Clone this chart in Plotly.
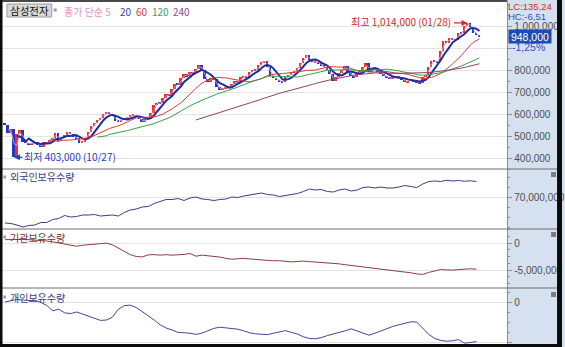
import plotly.graph_objects as go
import pandas as pd

W, H = 565, 347

# ---- price data: closes in thousand won, ~3.7 trading days per bar ----
close_k = [548, 515, 530, 403, 508, 527, 474, 470, 462, 470,
           472, 460, 452, 472, 468, 482, 492, 512, 476, 492,
           505, 518, 507, 498, 490, 470, 474, 492, 520, 545,
           560, 572, 584, 598, 610, 600, 590, 568, 566, 574,
           580, 587, 592, 596, 588, 578, 565, 576, 584, 605,
           640, 652, 648, 672, 690, 684, 712, 738, 732, 765,
           780, 772, 792, 786, 805, 822, 800, 760, 745, 765,
           758, 725, 708, 718, 725, 722, 735, 748, 742, 766,
           772, 768, 790, 802, 798, 822, 835, 842, 815, 775,
           765, 755, 748, 745, 766, 778, 788, 795, 810, 832,
           855, 866, 845, 835, 838, 830, 822, 812, 798, 780,
           748, 768, 785, 800, 820, 786, 775, 768, 788, 795,
           812, 830, 792, 800, 808, 792, 784, 772, 768, 758,
           770, 766, 768, 756, 745, 752, 756, 748, 745, 740,
           766, 778, 815, 842, 840, 836, 888, 930, 925, 945,
           940, 938, 970, 968, 1000, 1014, 995, 970, 960, 948]
first_open_k = 560
low_date = "10/27"
high_date = "01/28"

# ---- holdings (million shares), one sample every 2 bars ----
foreign_m = [64.8, 64.7, 64.4, 64.0, 64.3, 64.4, 64.9, 64.9, 65.5, 65.7,
             66.3, 66.0, 66.1, 66.4, 66.4, 66.5, 66.2, 66.3, 66.4, 66.2,
             66.9, 67.4, 67.6, 68.0, 68.1, 68.7, 69.1, 69.5, 69.5, 69.7,
             69.3, 69.8, 70.0, 69.6, 69.5, 69.3, 69.5, 69.6, 70.0, 69.9,
             70.2, 70.4, 70.5, 70.8, 70.5, 70.4, 70.1, 70.3, 70.6, 70.7,
             71.1, 71.6, 71.4, 71.5, 71.1, 71.0, 71.4, 71.6, 71.2, 71.4,
             71.9, 72.0, 71.8, 72.0, 71.8, 71.8, 72.0, 72.3, 72.1, 71.9,
             72.6, 73.1, 73.2, 73.1, 73.35, 73.2, 73.3, 73.15, 73.25, 73.1]
inst_m = [0.62, 0.66, 0.72, 0.66, 0.62, 0.55, 0.52, 0.36, 0.22, 0.05,
          -0.12, -0.30, -0.60, -0.42, -0.30, -0.22, -0.12, -0.02, -0.35, -0.95,
          -1.60, -2.15, -2.50, -2.58, -2.20, -2.15, -2.24, -2.16, -2.25, -2.20,
          -2.12, -1.95, -2.45, -2.25, -2.32, -2.40, -2.60, -2.85, -3.00, -2.92,
          -2.85, -2.95, -3.05, -3.15, -3.20, -3.30, -3.28, -3.40, -3.50, -3.42,
          -3.35, -3.45, -3.52, -3.60, -3.66, -3.78, -3.86, -4.02, -4.15, -4.30,
          -4.36, -4.48, -4.62, -4.78, -4.90, -5.08, -5.22, -5.38, -5.52, -5.72,
          -5.82, -5.45, -5.12, -4.92, -4.98, -5.02, -4.92, -4.85, -4.78, -4.85]
indiv_m = [0.00, 0.15, 0.32, 0.25, 0.18, 0.22, -0.05, -0.42, -1.10, -0.90,
           -1.35, -1.45, -1.25, -1.50, -1.80, -2.10, -2.30, -2.25, -1.90, -0.90,
           -0.45, -0.40, -0.70, -1.20, -1.70, -2.25, -2.85, -3.25, -3.50, -3.80,
           -3.85, -3.90, -4.05, -3.90, -3.60, -3.30, -3.15, -3.25, -3.30, -3.40,
           -3.60, -3.85, -3.98, -4.05, -4.08, -3.90, -3.72, -3.58, -3.80, -4.00,
           -4.35, -4.55, -4.60, -4.45, -4.20, -4.00, -3.85, -3.60, -3.35, -3.60,
           -3.90, -4.15, -3.90, -3.60, -3.25, -3.05, -2.85, -2.65, -2.48, -2.50,
           -3.30, -4.05, -4.55, -4.80, -4.90, -4.85, -4.70, -5.15, -5.05, -4.95]

# moving averages (trading days) and their colours
ma_days = [5, 20, 60, 120, 240]
ma_colors = ["#ec8fb2", "#1d2f9e", "#d63a3a", "#35a046", "#8e3f72"]
ma_widths = [1, 2, 1, 1, 1]
DAYS_PER_BAR = 3.7

price_ticks = [400000, 500000, 600000, 700000, 800000, 900000, 1000000]
change_text = "-1,25%"
lc_text = "LC:135,24"
hc_text = "HC:-6,51"

# ---- derived series ----
closes = [c * 1000 for c in close_k]
opens = [first_open_k * 1000] + closes[:-1]
bars = list(range(len(closes)))
hold_x = list(range(0, len(closes), 2))
s_close = pd.Series(closes, dtype=float)

UP, DOWN = "#e6302a", "#2236c8"
body_base = [min(o, c) for o, c in zip(opens, closes)]
body_len = [max(abs(c - o), 2500) for o, c in zip(opens, closes)]
body_col = [UP if c >= o else DOWN for o, c in zip(opens, closes)]


def px(x):
    return x / W


def py(y):
    return 1 - y / H


PANEL = "#d5e1ef"
FONT = "Noto Sans CJK KR, Liberation Sans, sans-serif"
NUMFONT = "Liberation Sans, Arial, sans-serif"
AX = "#8c8c8c"

fig = go.Figure()

# candle bodies
fig.add_trace(go.Bar(x=bars, y=body_len, base=body_base, width=0.85,
                     marker=dict(color=body_col, line=dict(width=0)),
                     xaxis="x", yaxis="y", hoverinfo="skip", showlegend=False))

for d, col, lw in zip(ma_days, ma_colors, ma_widths):
    win = max(2, round(d / DAYS_PER_BAR))
    ma = s_close.rolling(win).mean()
    fig.add_trace(go.Scatter(x=bars, y=ma, mode="lines",
                             line=dict(color=col, width=lw),
                             xaxis="x", yaxis="y", hoverinfo="skip",
                             showlegend=False))

fig.add_trace(go.Scatter(x=hold_x, y=[v * 1e6 for v in foreign_m], mode="lines",
                         line=dict(color="#3c3c88", width=1),
                         xaxis="x2", yaxis="y2", showlegend=False))
fig.add_trace(go.Scatter(x=hold_x, y=[v * 1e6 for v in inst_m], mode="lines",
                         line=dict(color="#8e3c3c", width=1),
                         xaxis="x3", yaxis="y3", showlegend=False))
fig.add_trace(go.Scatter(x=hold_x, y=[v * 1e6 for v in indiv_m], mode="lines",
                         line=dict(color="#44449a", width=1),
                         xaxis="x4", yaxis="y4", showlegend=False))

x_dom = [px(2.5), px(510)]
x_rng = [(2.5 - 5) / 3, (510 - 5) / 3]
xcommon = dict(domain=x_dom, range=x_rng, visible=False, showgrid=False,
               zeroline=False, fixedrange=True)

ycommon = dict(side="right", showline=True, linecolor=AX, linewidth=1,
               ticks="outside", ticklen=4, tickcolor=AX,
               tickfont=dict(size=10, color="#4f4f4f", family=NUMFONT),
               gridcolor="#e4e4e4", gridwidth=1, zeroline=False,
               tickmode="array", fixedrange=True)


def yrange(y_top, y_bot, v_ref, y_ref, px_per_unit):
    top = v_ref + (y_ref - y_top) / px_per_unit
    bot = v_ref - (y_bot - y_ref) / px_per_unit
    return [bot, top]


layout = dict(
    width=W, height=H, margin=dict(l=0, r=0, t=0, b=0),
    paper_bgcolor=PANEL, plot_bgcolor="white",
    font=dict(family=FONT, size=10),
    showlegend=False, bargap=0,
    xaxis=dict(**xcommon, anchor="y"),
    xaxis2=dict(**xcommon, anchor="y2"),
    xaxis3=dict(**xcommon, anchor="y3"),
    xaxis4=dict(**xcommon, anchor="y4"),
    yaxis=dict(**ycommon, anchor="x", domain=[py(169), py(2)],
               range=yrange(2, 169, 800000, 70, 22 / 100000),
               tickvals=price_ticks,
               ticktext=["" if v == 900000 else f"{v:,}" for v in price_ticks],
               minor=dict(ticks="outside", ticklen=2, tickcolor=AX,
                          dtick=50000, showgrid=False)),
    yaxis2=dict(**ycommon, anchor="x2", domain=[py(229), py(169)],
                range=yrange(169, 229, 70e6, 197, 5 / 1e6),
                tickvals=[70e6], ticktext=["70,000,000"],
                minor=dict(ticks="outside", ticklen=2, tickcolor=AX,
                           dtick=2e6, showgrid=False)),
    yaxis3=dict(**ycommon, anchor="x3", domain=[py(288), py(229)],
                range=yrange(229, 288, 0, 243, 5.4 / 1e6),
                tickvals=[0, -5e6], ticktext=["0", "-5,000,000"],
                minor=dict(ticks="outside", ticklen=2, tickcolor=AX,
                           dtick=1.25e6, showgrid=False)),
    yaxis4=dict(**ycommon, anchor="x4", domain=[0, py(288)],
                range=yrange(288, 347, 0, 302, 8 / 1e6),
                tickvals=[0, -5e6], ticktext=["0", "-5,000,000"],
                minor=dict(ticks="outside", ticklen=2, tickcolor=AX,
                           dtick=1.25e6, showgrid=False)),
)

shapes = []


def rect(x0, y0, x1, y1, fill, line=None, layer="above"):
    shapes.append(dict(type="rect", xref="paper", yref="paper",
                       x0=px(x0), x1=px(x1), y0=py(y1), y1=py(y0),
                       fillcolor=fill, layer=layer,
                       line=dict(width=1 if line else 0, color=line or fill)))


# panel separators
for ys in [169, 229, 288]:
    shapes.append(dict(type="line", xref="paper", yref="paper",
                       x0=0, x1=px(560), y0=py(ys), y1=py(ys),
                       line=dict(color="#6e6e6e", width=1), layer="above"))

# frame strips
rect(0, 0, 510, 2, "#4a4a4a")
rect(0, 0, 2.5, 347, "#0c0c0c")
rect(560, 0, 565, 347, "#0c0c0c")
rect(0, 344, 565, 347, "#0c0c0c")

# title box and small markers
rect(7, 4, 52, 17, "#d8d8d8", line="#9c9c9c")
rect(54, 8.5, 57, 11.5, "#9a9a9a")
for yl in [177, 237, 297]:
    rect(3.5, yl - 1.5, 6, yl + 1.5, "#9a9a9a")
    rect(554, yl - 5, 559, yl, "#7c7c7c")

annotations = []


def label(x, y, text, color, size=10, anchor="left", family=FONT, **kw):
    annotations.append(dict(xref="paper", yref="paper", x=px(x), y=py(y),
                            text=text, showarrow=False, xanchor=anchor,
                            yanchor="middle",
                            font=dict(size=size, color=color, family=family),
                            **kw))


label(29.5, 10.5, "삼성전자", "#111111", size=10.5, anchor="center")
label(62, 11, "종가 단순 5", "#e892b4")
label(119, 11, "20", "#3a4aa0")
label(135, 11, "60", "#d04040")
label(151, 11, "120", "#3aa060")
label(172, 11, "240", "#904a8a")

label(8, 177, "외국인보유수량", "#3c3c80")
label(8, 237, "기관보유수량", "#7a3434")
label(8, 297, "개인보유수량", "#3c3c80")

label(510, 6.5, lc_text, "#d42a2a", size=9.5, family=NUMFONT,
      height=9, borderpad=0)
label(510, 17, hc_text, "#2e4fc0", size=9.5, family=NUMFONT,
      height=9, borderpad=0)
annotations.append(dict(xref="paper", yref="paper", x=px(533), y=py(37),
                        text=f"{closes[-1]:,}", showarrow=False,
                        xanchor="center", yanchor="middle",
                        width=40, height=11, bgcolor="#1c4db2",
                        font=dict(size=10.5, color="white", family=NUMFONT)))
label(513, 46.5, change_text, "#2e4fc0", size=10.5, family=NUMFONT)

# extreme price markers
hi_i = max(bars, key=lambda i: closes[i])
lo_i = min(bars, key=lambda i: closes[i])
annotations.append(dict(xref="x", yref="y", x=hi_i, y=closes[hi_i], text="",
                        showarrow=True, ax=-15, ay=0, arrowhead=2,
                        arrowsize=1, arrowwidth=1.2, arrowcolor="#d42a2a"))
annotations.append(dict(xref="x", yref="y", x=hi_i, y=closes[hi_i],
                        text=f"최고 {closes[hi_i]:,} ({high_date})",
                        showarrow=False, xanchor="right", yanchor="middle",
                        xshift=-15, yshift=1,
                        font=dict(size=10, color="#d42a2a", family=FONT)))
annotations.append(dict(xref="x", yref="y", x=lo_i, y=closes[lo_i], text="",
                        showarrow=True, ax=10, ay=0, arrowhead=2,
                        arrowsize=1, arrowwidth=1.2, arrowcolor="#2440b8"))
annotations.append(dict(xref="x", yref="y", x=lo_i, y=closes[lo_i],
                        text=f"최저 {closes[lo_i]:,} ({low_date})",
                        showarrow=False, xanchor="left", yanchor="middle",
                        xshift=8, yshift=1,
                        font=dict(size=10, color="#2440b8", family=FONT)))

layout["shapes"] = shapes
layout["annotations"] = annotations
fig.update_layout(**layout)

fig.write_html("out.html")
